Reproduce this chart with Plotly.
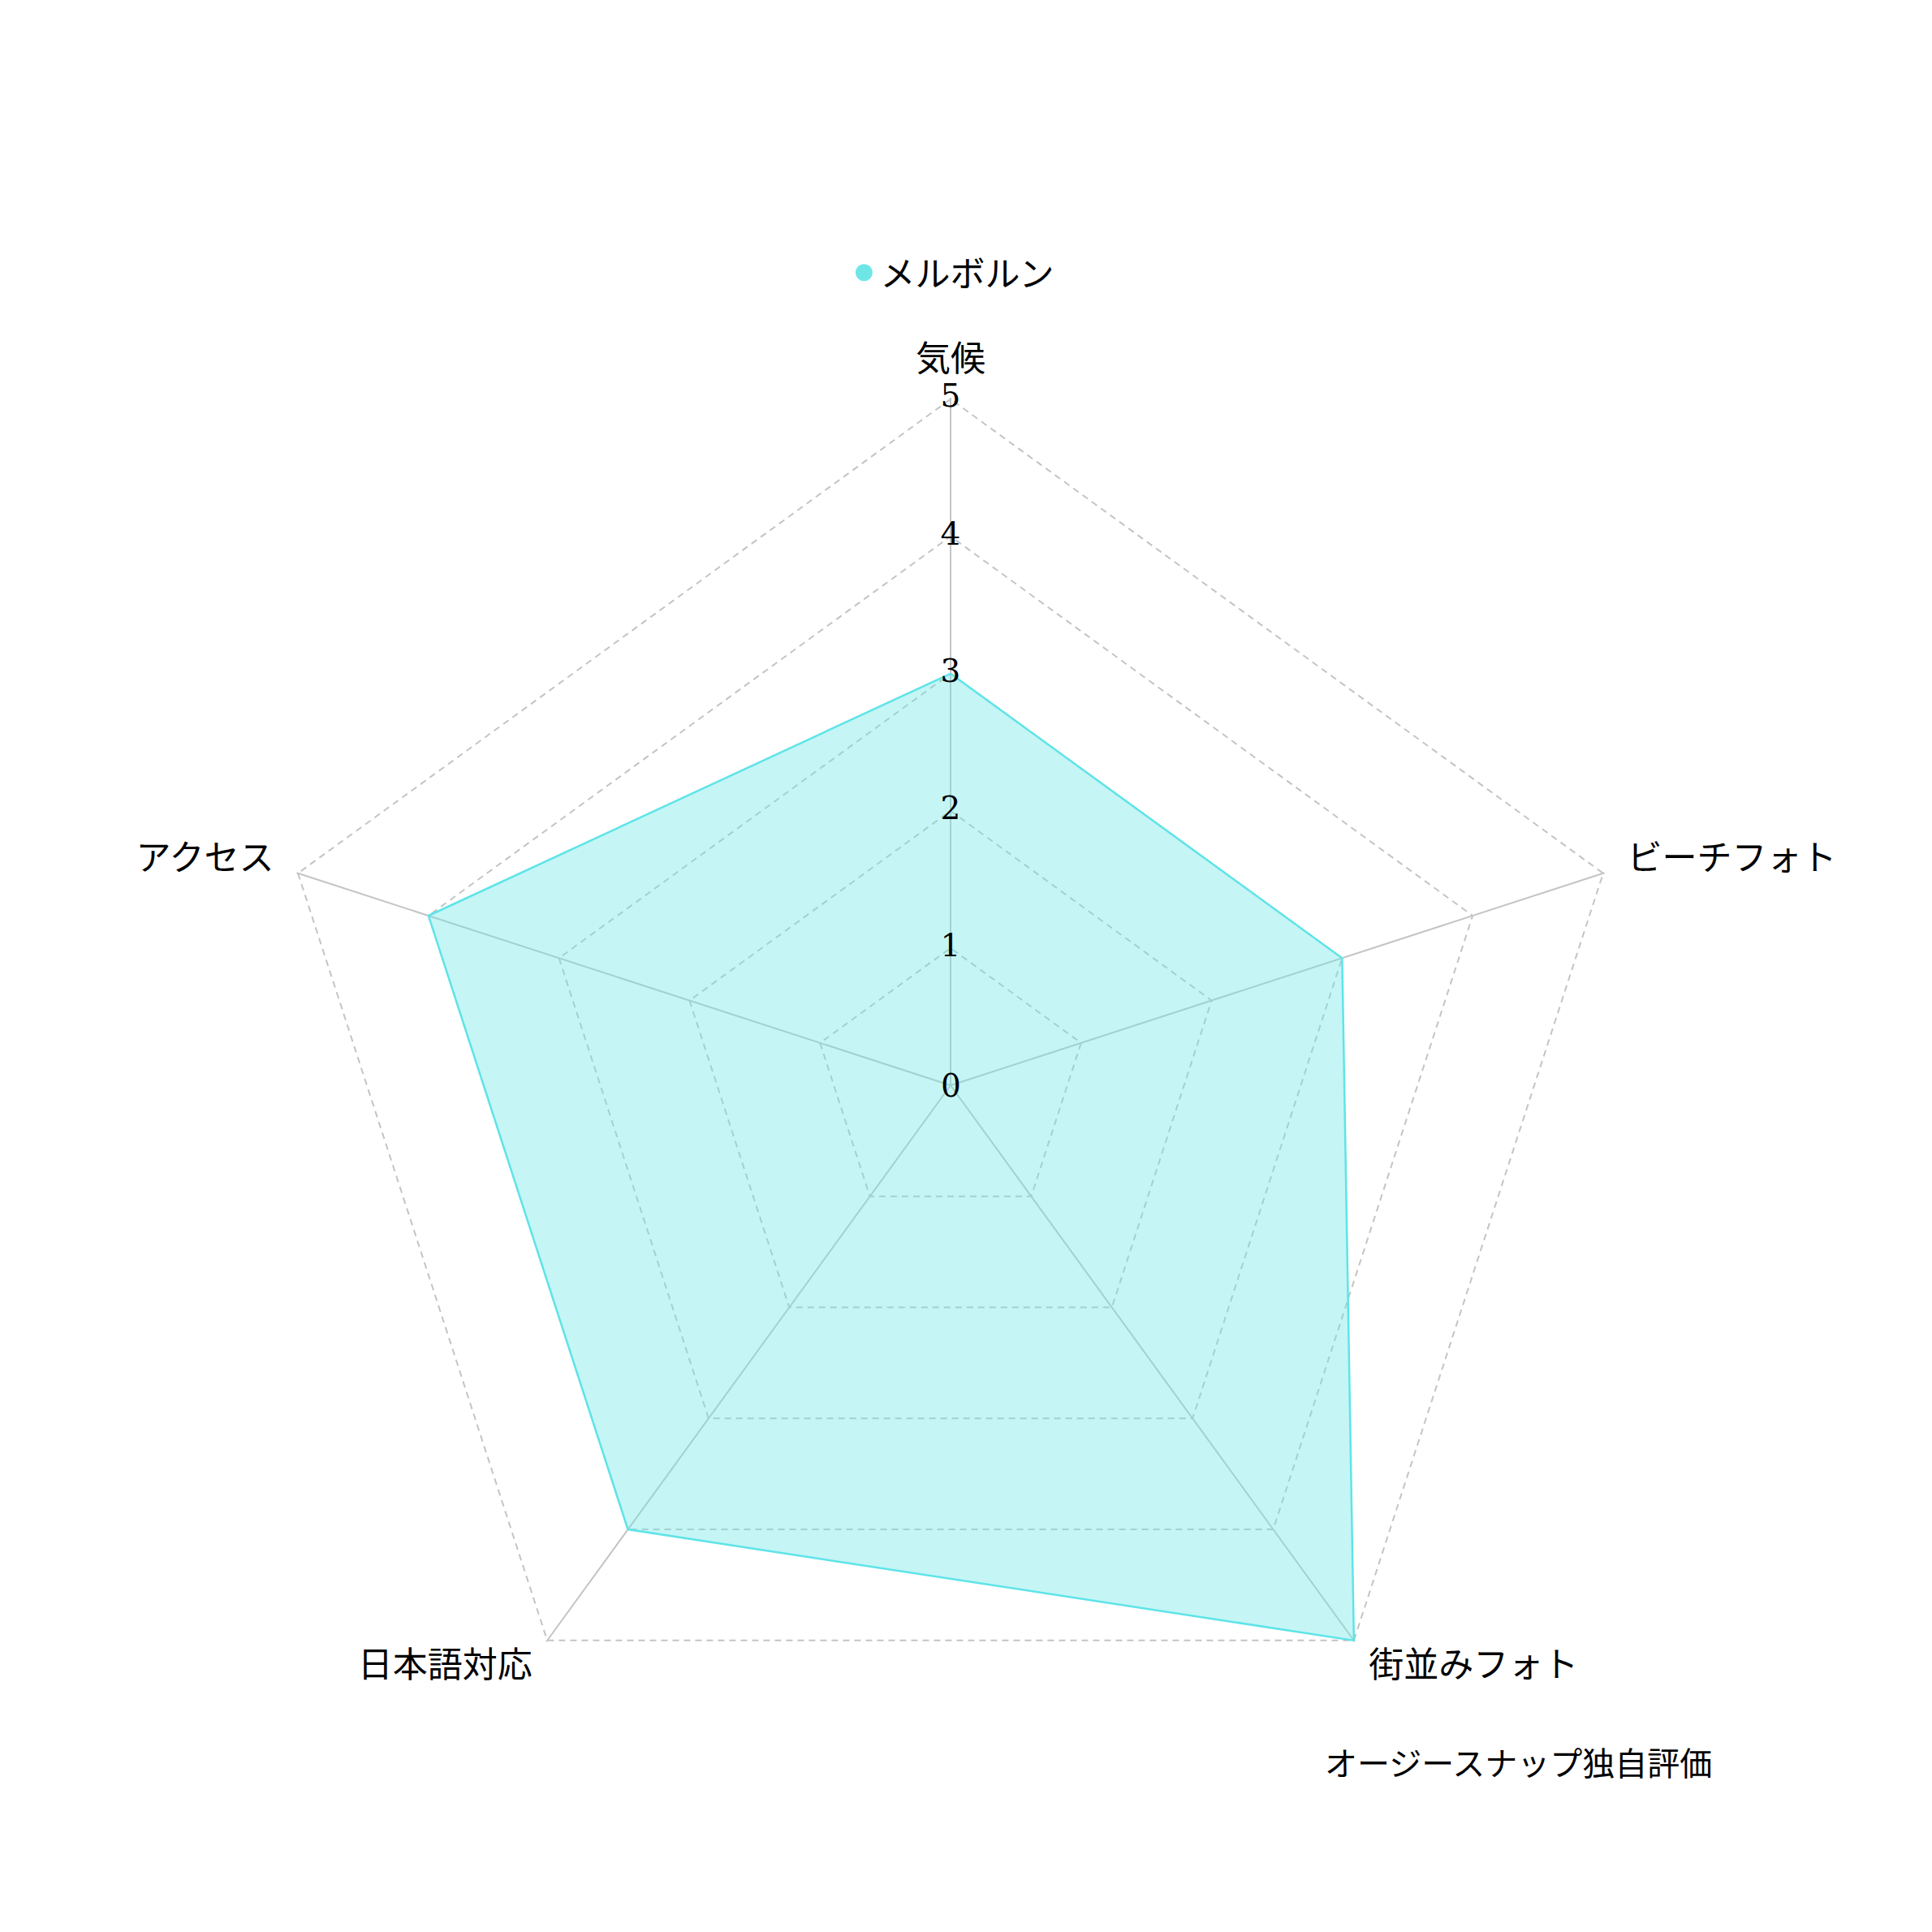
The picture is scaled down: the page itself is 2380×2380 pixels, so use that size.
import plotly.graph_objects as go

# 評価カテゴリとスコア（5段階）
categories = ["気候", "ビーチフォト", "街並みフォト", "日本語対応", "アクセス"]
scores = [3, 3, 5, 4, 4]
city = "メルボルン"

# 目盛り
tick_values = [0, 1, 2, 3, 4, 5]
tick_labels = ["0", "1", "2", "3", "4", "5"]

source_note = "オージースナップ独自評価"

main_color = "rgb(110,230,230)"
grid_color = "#c4c4c4"
jp_font = "Noto Sans CJK JP"
num_font = dict(family="DejaVu Serif, serif", size=39, color="black")

fig = go.Figure()

# レーダー本体
fig.add_trace(
    go.Scatterpolar(
        r=scores + scores[:1],
        theta=categories + categories[:1],
        mode="lines",
        fill="toself",
        fillcolor="rgba(110,230,230,0.4)",
        line=dict(color="rgb(94,228,232)", width=2.5),
        name=city,
        showlegend=False,
        hoverinfo="skip",
    )
)

# 凡例用（丸マーカー）
fig.add_trace(
    go.Scatterpolar(
        r=[None],
        theta=[categories[0]],
        mode="markers",
        marker=dict(size=16, color=main_color, line=dict(width=5, color=main_color)),
        name=city,
    )
)

# 軸上の目盛りラベル（0 は中心なので注釈で表示）
fig.add_trace(
    go.Scatterpolar(
        r=tick_values[1:],
        theta=[categories[0]] * (len(tick_values) - 1),
        mode="text",
        text=tick_labels[1:],
        textposition="middle center",
        textfont=num_font,
        cliponaxis=False,
        showlegend=False,
        hoverinfo="skip",
    )
)

fig.update_layout(
    width=2380,
    height=2380,
    margin=dict(l=316, r=370, t=482, b=204),
    paper_bgcolor="white",
    plot_bgcolor="white",
    font=dict(family=jp_font, size=43, color="black"),
    polar=dict(
        bgcolor="white",
        gridshape="linear",
        domain=dict(x=[0, 1], y=[0, 1]),
        radialaxis=dict(
            range=[0, 5.01],
            tickvals=tick_values[1:],
            showticklabels=False,
            ticks="",
            showline=False,
            gridcolor=grid_color,
            gridwidth=1.5,
            griddash="8px,6px",
            angle=90,
        ),
        angularaxis=dict(
            direction="clockwise",
            rotation=90,
            showline=False,
            ticks="outside",
            ticklen=25,
            tickcolor="rgba(0,0,0,0)",
            gridcolor=grid_color,
            gridwidth=1.5,
            tickvals=categories,
            ticktext=[f"<span style='font-size:43px'>{c}</span>" for c in categories],
            tickfont=dict(family=jp_font, size=20, color="black"),
        ),
    ),
    legend=dict(
        orientation="h",
        x=0.502,
        xanchor="center",
        y=1.091,
        yanchor="middle",
        font=dict(family=jp_font, size=43, color="black"),
    ),
    annotations=[
        dict(
            text=tick_labels[0],
            xref="paper",
            yref="paper",
            x=0.5,
            y=0.5,
            xanchor="center",
            yanchor="middle",
            showarrow=False,
            font=num_font,
        ),
        dict(
            text=source_note,
            xref="paper",
            yref="paper",
            x=1.055,
            y=0.008,
            xanchor="right",
            yanchor="middle",
            showarrow=False,
            font=dict(family=jp_font, size=40, color="black"),
        ),
    ],
)

fig.write_html("out.html")
